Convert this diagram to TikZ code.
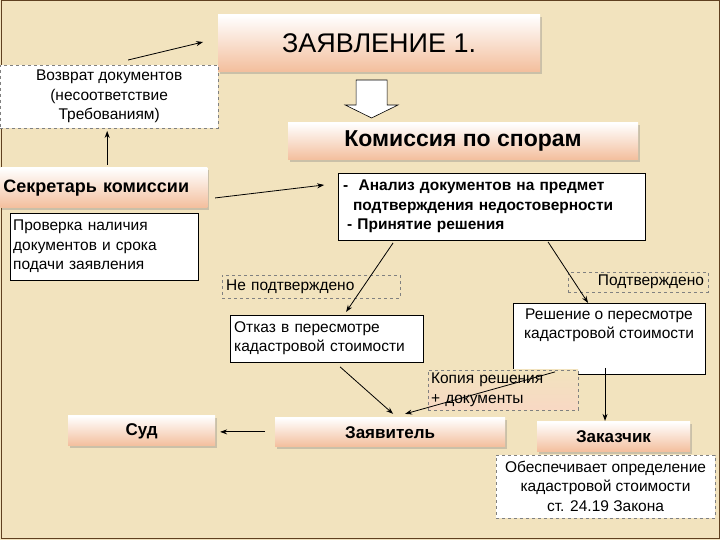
\documentclass[tikz,border=0pt]{standalone}
\usepackage{fontspec}
\setmainfont{Liberation Sans}
\usetikzlibrary{shadows,arrows.meta}
\definecolor{bg}{HTML}{F2E3BE}
\definecolor{peach}{HTML}{F3BE9C}
\tikzset{
  grad/.style={top color=white,bottom color=peach,drop shadow={shadow xshift=2pt,shadow yshift=-2pt,opacity=.35},inner sep=0pt},
  wbox/.style={draw,fill=white,inner sep=0pt},
  dbox/.style={draw=gray,dashed,inner sep=0pt},
  arr/.style={-{Stealth[length=7pt,width=5pt]},line width=0.8pt},
  tx/.style={font=\fontsize{15.5}{19.5}\selectfont},
  bx/.style={font=\bfseries\fontsize{15.5}{19.5}\selectfont},
}
\begin{document}
\begin{tikzpicture}[x=1pt,y=-1pt]
\fill[bg] (0,0) rectangle (720,540);
\draw[line width=1pt,brown!50!black] (1,1) rectangle (719,539);
\node[grad,minimum width=322pt,minimum height=57pt,font=\fontsize{27}{32}\selectfont] (t) at (379,43.5) {ЗАЯВЛЕНИЕ 1.};
\node[dbox,fill=white,minimum width=218pt,minimum height=63pt,align=center,tx] (v) at (109,96.5) {Возврат документов\\(несоответствие\\Требованиям)};
\coordinate (a1) at (128,60); \coordinate (a2) at (203,42);
\draw[arr] (a1) -- (a2);
\draw[fill=white,line width=0.6pt] (356,80) -- (387,80) -- (387,105) -- (398,105) -- (371.5,118) -- (345,105) -- (356,105) -- cycle;
\node[grad,minimum width=350pt,minimum height=37pt,font=\bfseries\fontsize{23}{26}\selectfont] (k) at (463,141.5) {Комиссия по спорам};
\node[grad,minimum width=207pt,minimum height=40pt,font=\bfseries\fontsize{18}{21}\selectfont,anchor=west,text width=201pt,align=left] (s) at (0,188) {Секретарь комиссии};
\coordinate (s1) at (107,165); \coordinate (s2) at (107,131);
\draw[arr] (s1) -- (s2);
\node[wbox,minimum width=188pt,minimum height=67pt,align=left,text width=182pt,tx] (p) at (104,246.5) {Проверка наличия\\документов и срока\\подачи заявления};
\node[wbox,minimum width=307pt,minimum height=67pt,align=left,text width=297pt,bx] (an) at (491.5,206.5) {- \ Анализ документов на предмет\\\hspace*{10pt}подтверждения недостоверности\\\hspace*{4pt}- Принятие решения};
\coordinate (c1) at (215,198); \coordinate (c2) at (324,185);
\draw[arr] (c1) -- (c2);
\node[dbox,minimum width=178pt,minimum height=23pt,tx,text width=170pt,align=left] (np) at (311,286.5) {Не подтверждено};
\node[dbox,minimum width=140pt,minimum height=20pt,tx,text width=132pt,align=right] (pd) at (638,282) {Подтверждено};
\node[wbox,minimum width=193pt,minimum height=47pt,align=left,text width=185pt,tx] (o) at (326.5,338.5) {Отказ в пересмотре\\кадастровой стоимости};
\node[wbox,minimum width=192pt,minimum height=65pt,align=center,tx,anchor=north] (r) at (609,303) {\rule{0pt}{16pt}Решение о пересмотре\\кадастровой стоимости\\[16pt]};
\coordinate (l1) at (393,243); \coordinate (l2) at (346,312);
\draw[arr] (l1) -- (l2);
\coordinate (m1) at (548,242); \coordinate (m2) at (588,303);
\draw[arr] (m1) -- (m2);
\node[dbox,top color=bg,bottom color=peach!60,minimum width=150pt,minimum height=40pt,align=left,text width=144pt,tx] (kop) at (503,390) {Копия решения\\+ документы};
\node[grad,minimum width=147pt,minimum height=30pt,font=\bfseries\fontsize{17}{20}\selectfont] (sud) at (141.5,431) {Суд};
\node[grad,minimum width=230pt,minimum height=29pt,font=\bfseries\fontsize{17}{20}\selectfont] (z) at (390,432.5) {Заявитель};
\node[grad,minimum width=153pt,minimum height=30pt,font=\bfseries\fontsize{17}{20}\selectfont] (zk) at (613.5,437) {Заказчик};
\node[dbox,fill=white,minimum width=219pt,minimum height=63pt,align=center,tx] (ob) at (605.5,486.5) {Обеспечивает определение\\кадастровой стоимости\\ст. 24.19 Закона};
\coordinate (e1) at (340,367); \coordinate (e2) at (393,414);
\draw[arr] (e1) -- (e2);
\coordinate (f1) at (555,372); \coordinate (f2) at (405,414);
\draw[arr] (f1) -- (f2);
\coordinate (g1) at (605,368); \coordinate (g2) at (605,421);
\draw[arr] (g1) -- (g2);
\coordinate (h1) at (265,432); \coordinate (h2) at (220,432);
\draw[arr] (h1) -- (h2);
\end{tikzpicture}
\end{document}
